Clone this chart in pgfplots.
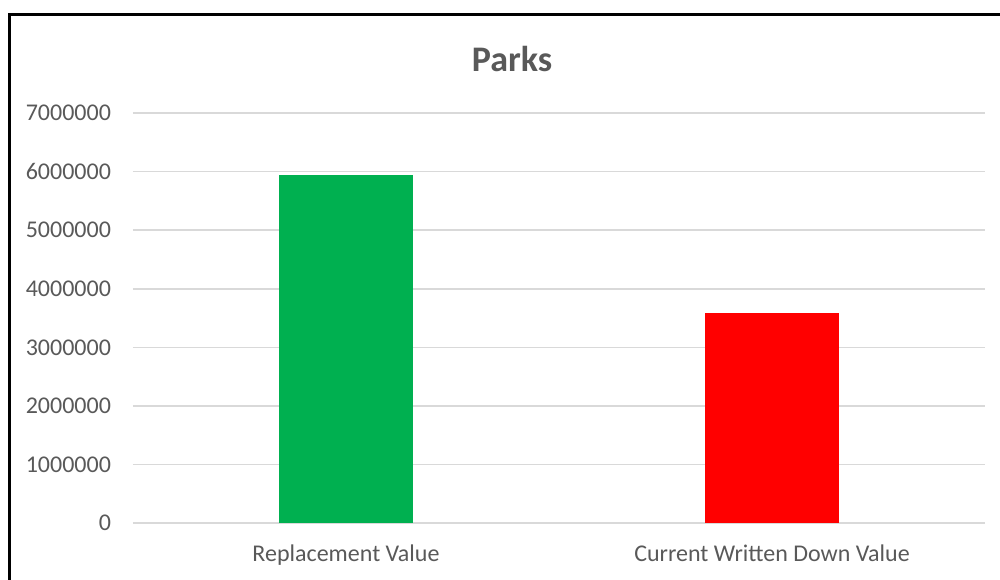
\documentclass[border=0pt]{standalone}
\usepackage{fontspec}
\setmainfont{Carlito}
\usepackage{pgfplots}
\pgfplotsset{compat=1.18}
\definecolor{txtgray}{RGB}{89,89,89}
\definecolor{gridgray}{RGB}{217,217,217}
\definecolor{bargreen}{RGB}{0,176,80}
\definecolor{barred}{RGB}{255,0,0}
\begin{document}
\begin{tikzpicture}
% picture is 1000 x 579 px, 1 px = 0.5pt
\useasboundingbox (0,0) rectangle (500pt,-289.5pt);
\draw[black, line width=1.6pt] (4.6pt,-300pt) -- (4.6pt,-7.2pt) -- (520pt,-7.2pt);
\node[font=\fontsize{18}{20}\selectfont\bfseries, text=txtgray] at (256pt,-29.5pt) {Parks};
\begin{axis}[
    at={(66.5pt,-261.5pt)}, anchor=south west,
    scale only axis,
    width=426pt, height=205pt,
    ybar, bar width=67pt, bar shift=0pt,
    xmin=-0.5, xmax=1.5,
    ymin=0, ymax=7000000,
    ytick={0,1000000,...,7000000},
    xtick={0,1},
    xticklabels={Replacement Value, Current Written Down Value},
    axis line style={draw=none},
    major tick length=0pt,
    ymajorgrids, grid style={gridgray, line width=0.8pt},
    scaled y ticks=false,
    /pgf/number format/assume math mode=true,
    yticklabel style={/pgf/number format/fixed, /pgf/number format/1000 sep={}, xshift=-7.5pt},
    ticklabel style={font=\fontsize{12}{14}\selectfont, text=txtgray},
    xticklabel style={yshift=-7.5pt},
    clip=false,
]
\addplot[fill=bargreen, draw=none] coordinates {(0,5940000)};
\addplot[fill=barred, draw=none] coordinates {(1,3585000)};
\end{axis}
\end{tikzpicture}
\end{document}
